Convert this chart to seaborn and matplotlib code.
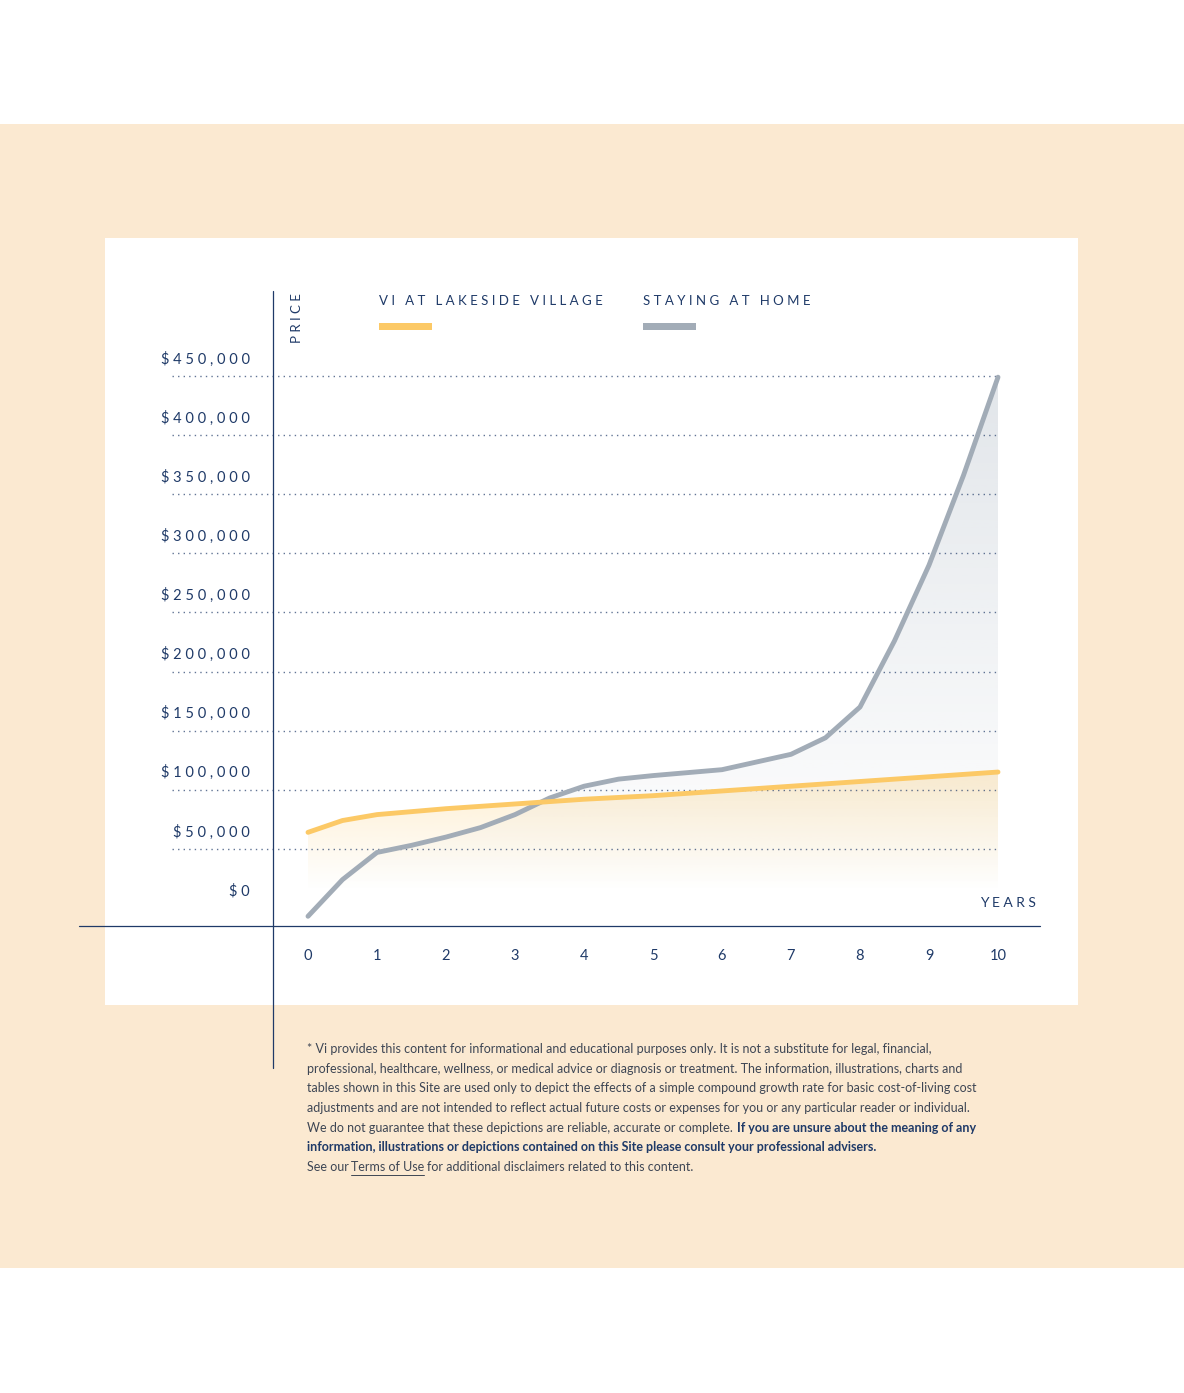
import numpy as np
import pandas as pd
import matplotlib
matplotlib.use("Agg")
import matplotlib.pyplot as plt
from matplotlib.patches import Rectangle, Polygon
import seaborn as sns

# --- data ---
years_home = [0, 0.5, 1, 1.5, 2, 2.5, 3, 3.5, 4, 4.5, 5, 6, 7, 7.5, 8, 8.5, 9, 9.5, 10]
home_cost = [-7000, 24000, 47000, 53000, 60000, 68000, 79000, 93000, 103000, 109000,
             112000, 117000, 130000, 144000, 170000, 226000, 290000, 366000, 449000]
years_vi = [0, 0.5, 1, 2, 3, 4, 5, 6, 7, 8, 9, 10]
vi_cost = [64000, 74000, 79000, 84000, 88000, 92000, 95000, 99000, 103000, 107000, 111000, 115000]
y_ticks = [0, 50000, 100000, 150000, 200000, 250000, 300000, 350000, 400000, 450000]
x_ticks = list(range(11))

NAVY = "#1F3A68"
YELLOW = "#FCC966"
GRAY = "#A2ACB7"
BEIGE = "#FBE9D1"
W, H = 1184, 1393

sns.set_theme(style="white")
plt.rcParams["font.family"] = "Lato"
fig = plt.figure(figsize=(W / 100, H / 100), dpi=100)
fig.patch.set_facecolor("white")

def fx(px):
    return px / W

def fy(py):
    return 1 - py / H

fig.patches.append(Rectangle((0, fy(1268)), 1, fy(124) - fy(1268), transform=fig.transFigure,
                             facecolor=BEIGE, edgecolor="none", zorder=-2))
fig.patches.append(Rectangle((fx(105), fy(1005)), fx(1078) - fx(105), fy(238) - fy(1005),
                             transform=fig.transFigure, facecolor="white", edgecolor="none", zorder=-1))

ax = fig.add_axes([fx(308), fy(908), fx(998) - fx(308), fy(376) - fy(908)])
ax.set_zorder(5)
ax.patch.set_alpha(0)

# gradient fills under curves
def grad_fill(xs, ys, color, alpha_top):
    rgb = matplotlib.colors.to_rgb(color)
    grad = np.zeros((256, 1, 4))
    grad[:, 0, :3] = rgb
    grad[:, 0, 3] = np.linspace(alpha_top, 0, 256)
    im = ax.imshow(grad, extent=[0, 10, 15000, max(ys)], aspect="auto", origin="upper", zorder=1)
    poly = Polygon(list(zip(xs, ys)) + [(10, 15000), (0, 15000)], closed=True, transform=ax.transData)
    im.set_clip_path(poly)

grad_fill(years_vi, vi_cost, YELLOW, 0.3)
hy = [max(y, 15000) for y in home_cost]
grad_fill(years_home, hy, "#8A99AA", 0.25)

df_home = pd.DataFrame({"year": years_home, "cost": home_cost})
df_vi = pd.DataFrame({"year": years_vi, "cost": vi_cost})
sns.lineplot(data=df_home, x="year", y="cost", ax=ax, color=GRAY, lw=3.5, clip_on=False, zorder=3)
sns.lineplot(data=df_vi, x="year", y="cost", ax=ax, color=YELLOW, lw=3.5, clip_on=False, zorder=4)

# dotted gridlines from the label area to x=10
x_left = -(308 - 172) / 69
for v in y_ticks[1:]:
    ax.plot([x_left, 10], [v, v], ls=(0, (1, 3)), color=NAVY, lw=1, alpha=0.7, clip_on=False, zorder=2)
    ax.text(x_left + 1.13, v + 8000, " ".join(f"${v:,}"), ha="right",
            va="bottom", color=NAVY, fontsize=10.5)
ax.text(x_left + 1.13, 8000, "$ 0", ha="right", va="bottom", color=NAVY, fontsize=10.5)

for t in x_ticks:
    ax.text(t, -41000, str(t), ha="center", va="center", color=NAVY, fontsize=10.5)

ax.set_xlim(0, 10)
ax.set_ylim(0, 450000)
ax.axis("off")

# axis lines (pixel-based)
fig.add_artist(plt.Line2D([fx(273), fx(273)], [fy(291), fy(1068)], color=NAVY, lw=0.9))
fig.add_artist(plt.Line2D([fx(79), fx(1040)], [fy(926), fy(926)], color=NAVY, lw=0.9))

# labels / legend
fig.text(fx(297), fy(318), "P R I C E", rotation=90, ha="center", va="center", color=NAVY, fontsize=9.5)
fig.text(fx(1008), fy(903), "Y E A R S", ha="center", va="center", color=NAVY, fontsize=10)
fig.text(fx(379), fy(301), "V I   A T   L A K E S I D E   V I L L A G E", ha="left", va="center",
         color=NAVY, fontsize=9.5)
fig.text(fx(643), fy(301), "S T A Y I N G   A T   H O M E", ha="left", va="center", color=NAVY, fontsize=9.5)
fig.patches.append(Rectangle((fx(379), fy(330)), fx(53), fy(323) - fy(330), transform=fig.transFigure,
                             facecolor=YELLOW, edgecolor="none"))
fig.patches.append(Rectangle((fx(643), fy(330)), fx(53), fy(323) - fy(330), transform=fig.transFigure,
                             facecolor=GRAY, edgecolor="none"))

# footnote
TXT = "#3E4654"
fs = 9
lines = [
    "* Vi provides this content for informational and educational purposes only. It is not a substitute for legal, financial,",
    "professional, healthcare, wellness, or medical advice or diagnosis or treatment. The information, illustrations, charts and",
    "tables shown in this Site are used only to depict the effects of a simple compound growth rate for basic cost-of-living cost",
    "adjustments and are not intended to reflect actual future costs or expenses for you or any particular reader or individual.",
]
for i, s in enumerate(lines):
    fig.text(fx(307), fy(1049 + i * 19.7), s, ha="left", va="center", color=TXT, fontsize=fs)
fig.text(fx(307), fy(1128), "We do not guarantee that these depictions are reliable, accurate or complete.",
         ha="left", va="center", color=TXT, fontsize=fs)
fig.text(fx(737), fy(1128), "If you are unsure about the meaning of any", ha="left", va="center",
         color=NAVY, fontsize=fs, fontweight="bold")
fig.text(fx(307), fy(1147), "information, illustrations or depictions contained on this Site please consult your professional advisers.",
         ha="left", va="center", color=NAVY, fontsize=fs, fontweight="bold")
fig.text(fx(307), fy(1167), "See our", ha="left", va="center", color=TXT, fontsize=fs)
fig.text(fx(351), fy(1167), "Terms of Use", ha="left", va="center", color=TXT, fontsize=fs)
fig.add_artist(plt.Line2D([fx(351), fx(424)], [fy(1175), fy(1175)], color=TXT, lw=0.7))
fig.text(fx(427), fy(1167), "for additional disclaimers related to this content.", ha="left", va="center",
         color=TXT, fontsize=fs)

fig.savefig("out.png", dpi=100)
